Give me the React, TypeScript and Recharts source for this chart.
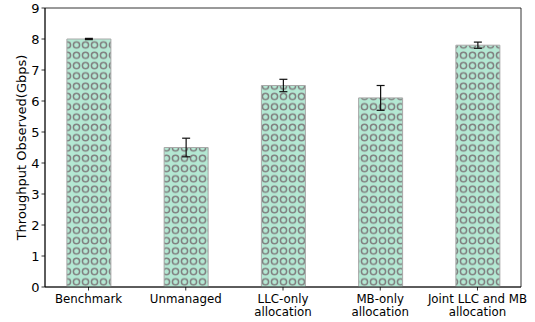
import { Bar, BarChart, ErrorBar, ReferenceArea, XAxis, YAxis } from 'recharts'

const categories = ['Benchmark', 'Unmanaged', 'LLC-only\nallocation', 'MB-only\nallocation', 'Joint LLC and MB\nallocation']
const throughput = [8.0, 4.5, 6.5, 6.1, 7.8]
const spread = [0.02, 0.3, 0.2, 0.4, 0.1]
const yTicks = [0, 1, 2, 3, 4, 5, 6, 7, 8, 9]

const data = categories.map((name, i) => ({ idx: i, name, value: throughput[i], err: spread[i] }))

const font = 'DejaVu Sans, sans-serif'
const xDomain: [number, number] = [-0.4475, 4.4475]

// two-line category labels under the bars
function CategoryTick(props: any) {
  const { x, y, payload } = props
  const lines = categories[payload.value].split('\n')
  return (
    <text x={x} y={y} textAnchor="middle" fontFamily={font} fontSize={11.8} fill="#000">
      {lines.map((l, k) => (
        <tspan key={k} x={x} y={y + 10 + k * 13.5}>
          {l}
        </tspan>
      ))}
    </text>
  )
}

export default function App() {
  return (
    <div style={{ position: 'absolute', left: 0, top: 0, width: 535, height: 322, background: '#fff' }}>
      <BarChart width={535} height={322} data={data} margin={{ top: 8, right: 14, bottom: 0, left: 0 }}>
        <defs>
          <pattern id="rings" patternUnits="userSpaceOnUse" width={9} height={10.3} x={0} y={287}>
            <rect width={9} height={10.3} fill="#b4e8d3" />
            <circle cx={4.5} cy={5.15} r={3.1} fill="none" stroke="#808080" strokeWidth={1.5} />
          </pattern>
        </defs>
        <XAxis
          dataKey="idx"
          type="number"
          domain={xDomain}
          ticks={[0, 1, 2, 3, 4]}
          allowDataOverflow
          height={35}
          tickSize={3.5}
          tickLine={{ stroke: '#000', strokeWidth: 0.8 }}
          tick={<CategoryTick />}
          axisLine={{ stroke: '#000', strokeWidth: 0.8 }}
        />
        <YAxis
          domain={[0, 9]}
          ticks={yTicks}
          width={45}
          interval={0}
          tickSize={3.5}
          tickLine={{ stroke: '#000', strokeWidth: 0.8 }}
          axisLine={{ stroke: '#000', strokeWidth: 0.8 }}
          tick={{ fontFamily: font, fontSize: 13, fill: '#000' }}
          label={{ value: 'Throughput Observed(Gbps)', angle: -90, position: 'center', dx: -1, style: { fontFamily: font, fontSize: 13, fill: '#000' } }}
        />
        <Bar dataKey="value" barSize={44} fill="url(#rings)" stroke="#a8a8a8" strokeWidth={1} isAnimationActive={false}>
          <ErrorBar dataKey="err" width={4} stroke="#111" strokeWidth={1.2} direction="y" />
        </Bar>
        {/* frame around the plot area */}
        <ReferenceArea x1={xDomain[0]} x2={xDomain[1]} y1={0} y2={9} fill="none" stroke="#000" strokeWidth={0.8} ifOverflow="visible" />
      </BarChart>
    </div>
  )
}
